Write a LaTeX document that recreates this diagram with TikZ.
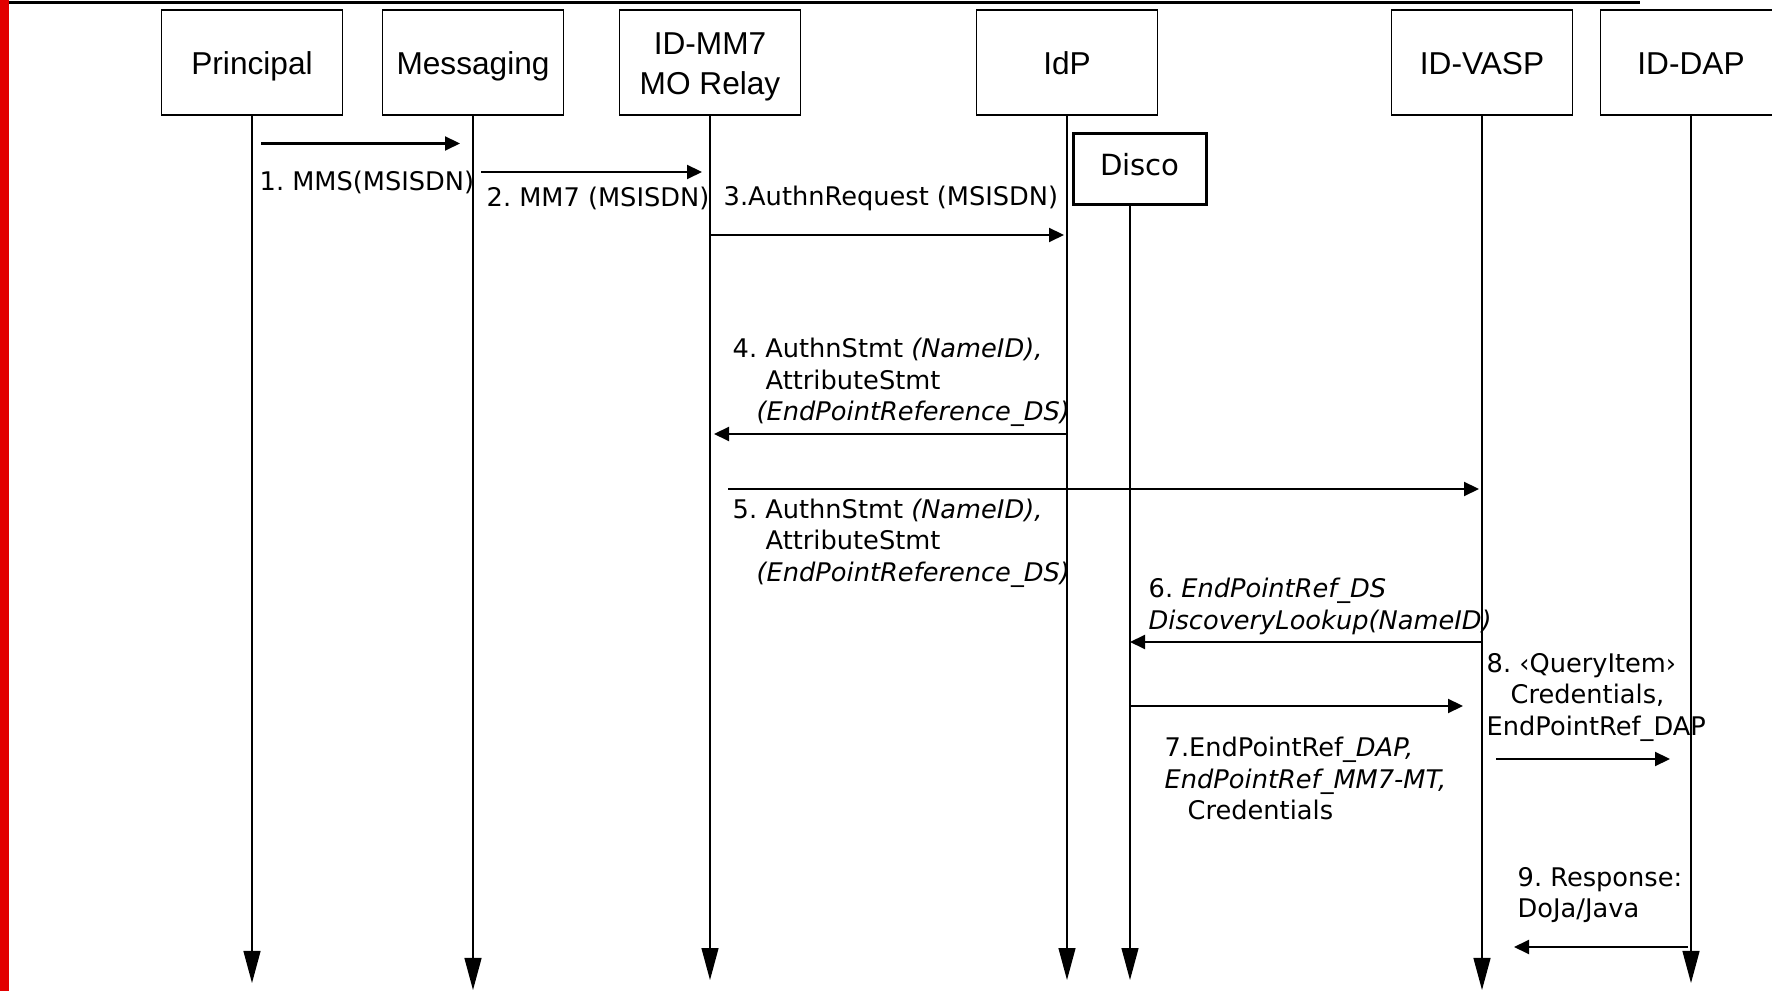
\documentclass[tikz,border=0pt]{standalone}
\usepackage{fontspec}
\setmainfont{DejaVu Sans}
\newfontfamily\boxfont{Liberation Sans}
\usetikzlibrary{arrows.meta}

\definecolor{barred}{RGB}{226,0,0}
\newcommand\boxstrut{\rule[-2.25pt]{0pt}{11.4pt}}
\frenchspacing

\begin{document}
\begin{tikzpicture}[
  actor/.style={draw,line width=0.5pt,minimum width=1.81cm,minimum height=1.05cm,
    align=center,inner sep=1pt,font=\boxfont\fontsize{9}{11.2}\selectfont,
    execute at begin node=\boxstrut},
  discobox/.style={draw,line width=0.9pt,minimum width=1.33cm,minimum height=0.71cm,
    font=\fontsize{8.3}{10}\selectfont,
    execute at begin node={\rule[-0.1cm]{0pt}{0.1cm}}},
  life/.style={line width=0.35pt,-{Triangle[length=3.2mm,width=1.7mm]}},
  msg/.style={line width=0.6pt,-{Triangle[length=1.5mm,width=1.4mm]}},
  lbl/.style={inner sep=0pt,align=left,font=\fontsize{7.3}{9}\selectfont},
]

\clip (0,0) rectangle (17.72,-9.91);

% red bar and top rule
\fill[barred] (0,0) rectangle (0.09,-9.91);
\draw[line width=0.7pt] (0.09,-0.025) -- (16.40,-0.025);

% participants
\node[actor] (prin)  at (2.52,-0.625) {Principal};
\node[actor] (mess)  at (4.73,-0.625) {Messaging};
\node[actor,execute at begin node={}] (relay) at (7.10,-0.625)
  {\rule{0pt}{9pt}ID-MM7\\MO Relay};
\node[actor] (idp)   at (10.67,-0.625) {IdP};
\node[actor] (vasp)  at (14.82,-0.625) {ID-VASP};
\node[actor] (dap)   at (16.91,-0.625) {ID-DAP};
\node[discobox] (disco) at (11.40,-1.69) {Disco};

% lifelines
\foreach \n/\b in {prin/9.83,mess/9.90,relay/9.80,idp/9.80,vasp/9.90,dap/9.83}{
  \coordinate (\n-end) at (\n.south |- 0,-\b);
  \draw[life] (\n.south) -- (\n-end);
}
\coordinate (dl) at ([xshift=-0.1cm]disco.south);
\coordinate (dl-end) at (dl |- 0,-9.80);
\draw[life] (dl) -- (dl-end);

% message rows
\coordinate (r1) at (0,-1.435);
\coordinate (r2) at (0,-1.72);
\coordinate (r3) at (0,-2.35);
\coordinate (r4) at (0,-4.34);
\coordinate (r5) at (0,-4.89);
\coordinate (r6) at (0,-6.42);
\coordinate (r7) at (0,-7.06);
\coordinate (r8) at (0,-7.59);
\coordinate (r9) at (0,-9.47);

% messages
\draw[msg,shorten <=0.09cm,shorten >=0.13cm] (prin |- r1) -- (mess |- r1);
\draw[msg,shorten <=0.08cm,shorten >=0.08cm] (mess |- r2) -- (relay |- r2);
\draw[msg,shorten >=0.03cm] (relay |- r3) -- (idp |- r3);
\draw[msg,shorten >=0.04cm] (idp |- r4) -- (relay |- r4);
\draw[msg,shorten <=0.18cm,shorten >=0.03cm] (relay |- r5) -- (vasp |- r5);
\draw[msg] (vasp |- r6) -- (dl |- r6);
\draw[msg,shorten >=0.19cm] (dl |- r7) -- (vasp |- r7);
\draw[msg,shorten <=0.14cm,shorten >=0.21cm] (vasp |- r8) -- (dap |- r8);
\draw[msg,shorten <=0.03cm,shorten >=0.32cm] (dap |- r9) -- (vasp |- r9);

% labels
\node[lbl,anchor=west] (l1) at (2.59,-1.82) {1. MMS(MSISDN)};
\node[lbl,anchor=west] (l2) at (4.86,-1.98) {2. MM7 (MSISDN)};
\node[lbl,anchor=west] (l3) at (7.23,-1.98) {3.AuthnRequest (MSISDN)};
\node[lbl,anchor=north west] (l4) at (7.32,-3.375)
  {4. AuthnStmt \textit{(NameID),}\\\hspace*{0.33cm}AttributeStmt\\
   \hspace*{0.24cm}\textit{(EndPointReference\_DS)}};
\node[lbl,anchor=north west] (l5) at (7.32,-4.98)
  {5. AuthnStmt \textit{(NameID),}\\\hspace*{0.33cm}AttributeStmt\\
   \hspace*{0.24cm}\textit{(EndPointReference\_DS)}};
\node[lbl,anchor=north west] (l6) at (11.48,-5.775)
  {6. \textit{EndPointRef\_DS}\\\textit{DiscoveryLookup(NameID)}};
\node[lbl,anchor=north west] (l7) at (11.64,-7.365)
  {7.EndPointRef\_\textit{DAP,}\\\textit{EndPointRef\_MM7-MT,}\\
   \hspace*{0.23cm}Credentials};
\node[lbl,anchor=north west] (l8) at (14.86,-6.525)
  {8. ‹QueryItem›\\\hspace*{0.24cm}Credentials,\\EndPointRef\_DAP};
\node[lbl,anchor=north west] (l9) at (15.17,-8.665)
  {9. Response:\\DoJa/Java};

\end{tikzpicture}
\end{document}
